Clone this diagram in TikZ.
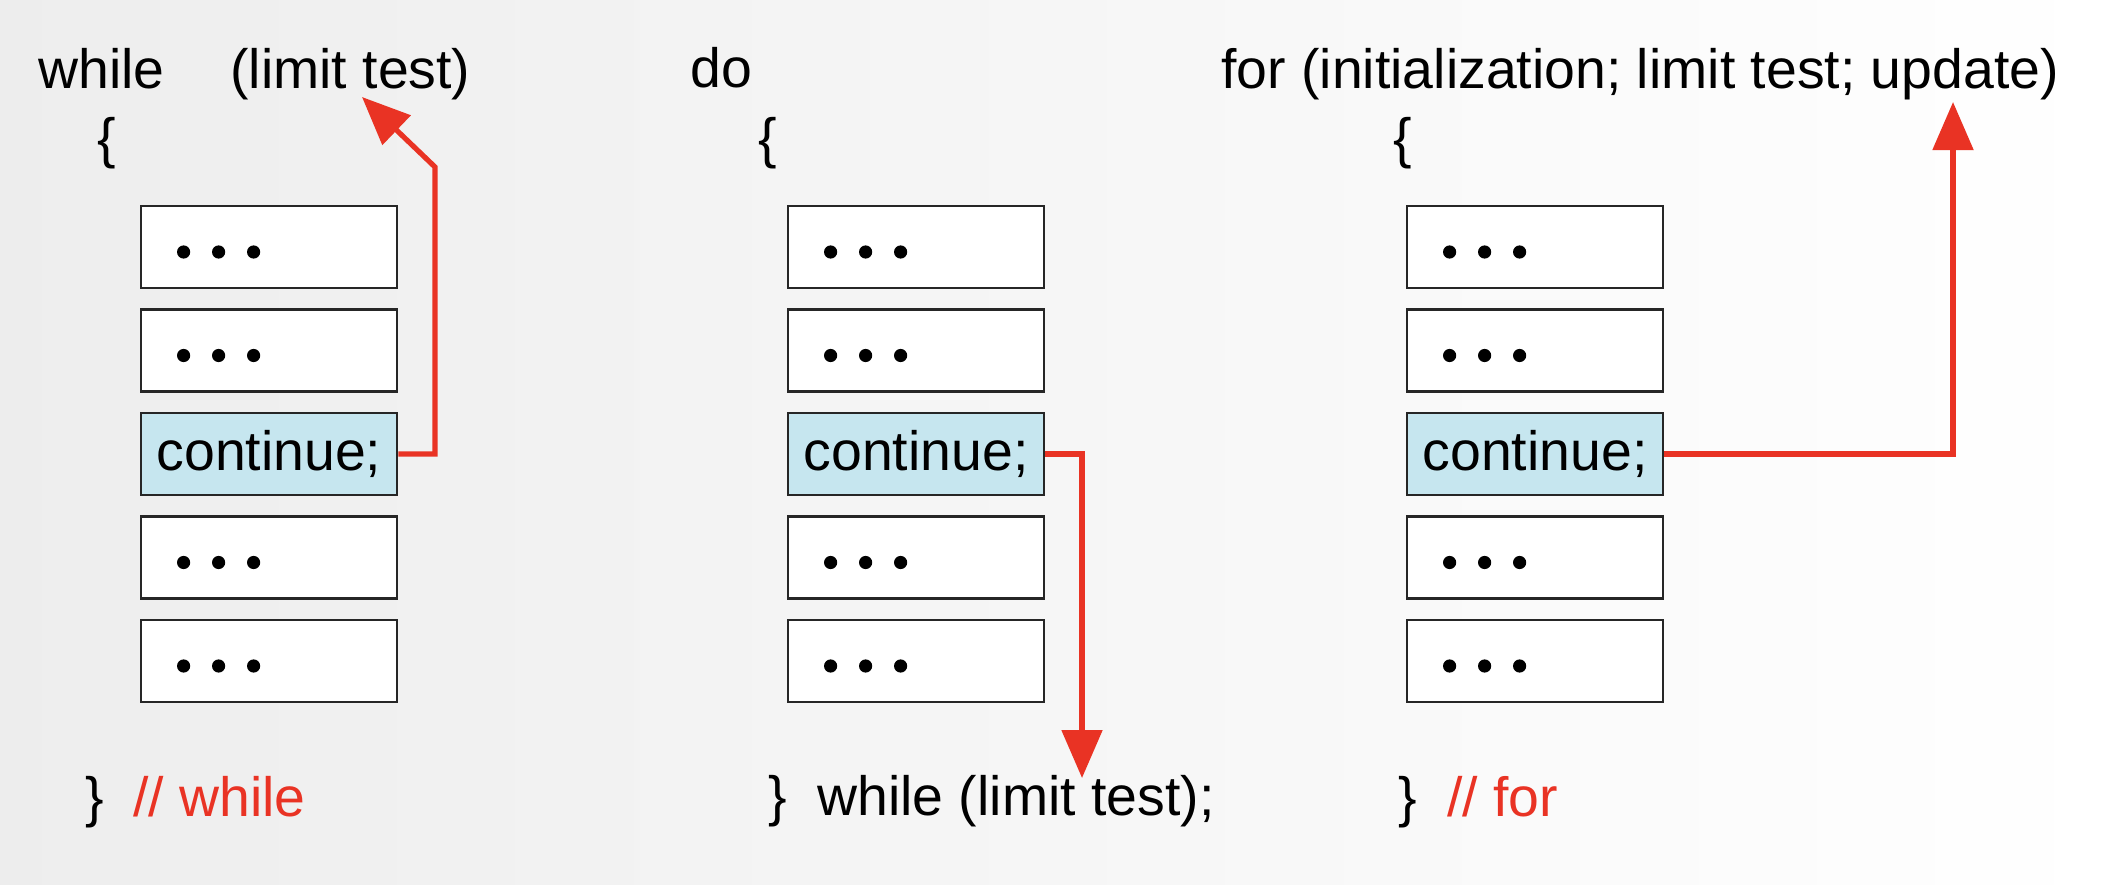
\documentclass[tikz,border=0pt]{standalone}
\usepackage{fontspec}
\setmainfont{Liberation Sans}
\usetikzlibrary{arrows.meta, calc}
\definecolor{loopred}{RGB}{233,51,36}
\definecolor{contblue}{RGB}{198,230,239}

\begin{document}
\begin{tikzpicture}[x=0.5pt, y=-0.5pt, font=\fontsize{27.7}{33}\selectfont,
  stmt/.style={draw=black!85, line width=1.4pt, fill=white, minimum width=128pt, minimum height=41pt, inner sep=0pt},
  cont/.style={stmt, fill=contblue},
  code/.style={anchor=base west, inner sep=0pt},
  jump/.style={draw=loopred, line width=2.6pt, -{Triangle[width=20pt,length=24pt]}}]
  \shade[left color=black!7, middle color=black!2, right color=white] (0,0) rectangle (2112,884);
  \useasboundingbox (0,0) rectangle (2112,884);

  % the three loop bodies
  \foreach \col/\x in {w/269, d/916, f/1535} {
    \foreach \i in {1,2,4,5} {
      \node[stmt] (\col\i) at (\x, {247+103.5*(\i-1)}) {};
      \foreach \k in {0,1,2}
        \fill ($(\col\i.west)+({44+35*\k},5)$) circle (3.3pt);
    }
    \node[cont] (\col3) at (\x, 454) {continue;};
  }

  % while loop
  \node[code] (wkey) at (38,88) {while};
  \node[code] (wcond) at (230,88) {(limit test)};
  \node[code] (wopen) at (97,157) {\{};
  \node[code] (wclose) at (85,816) {\}};
  \node[code, text=loopred] (wend) at (133,816) {// while};

  % do-while loop
  \node[code] (dkey) at (690,87) {do};
  \node[code] (dopen) at (758,157) {\{};
  \node[code] (dclose) at (768,815) {\}};
  \node[code] (dcond) at (817,815) {while (limit test);};

  % for loop
  \node[code] (fkey) at (1221,88) {for (initialization; limit test; update)};
  \node[code] (fopen) at (1393,157) {\{};
  \node[code] (fclose) at (1398,816) {\}};
  \node[code, text=loopred] (fend) at (1447,816) {// for};

  \coordinate (wtip) at (362,97);
  \coordinate (wbend) at (435,167);
  \coordinate (dtip) at (1082,778);
  \coordinate (ftip) at (1953,102);

  \draw[jump] (w3.east) -| (wbend) -- (wtip);
  \draw[jump] (d3.east) -| (dtip);
  \draw[jump] (f3.east) -| (ftip);
\end{tikzpicture}
\end{document}
